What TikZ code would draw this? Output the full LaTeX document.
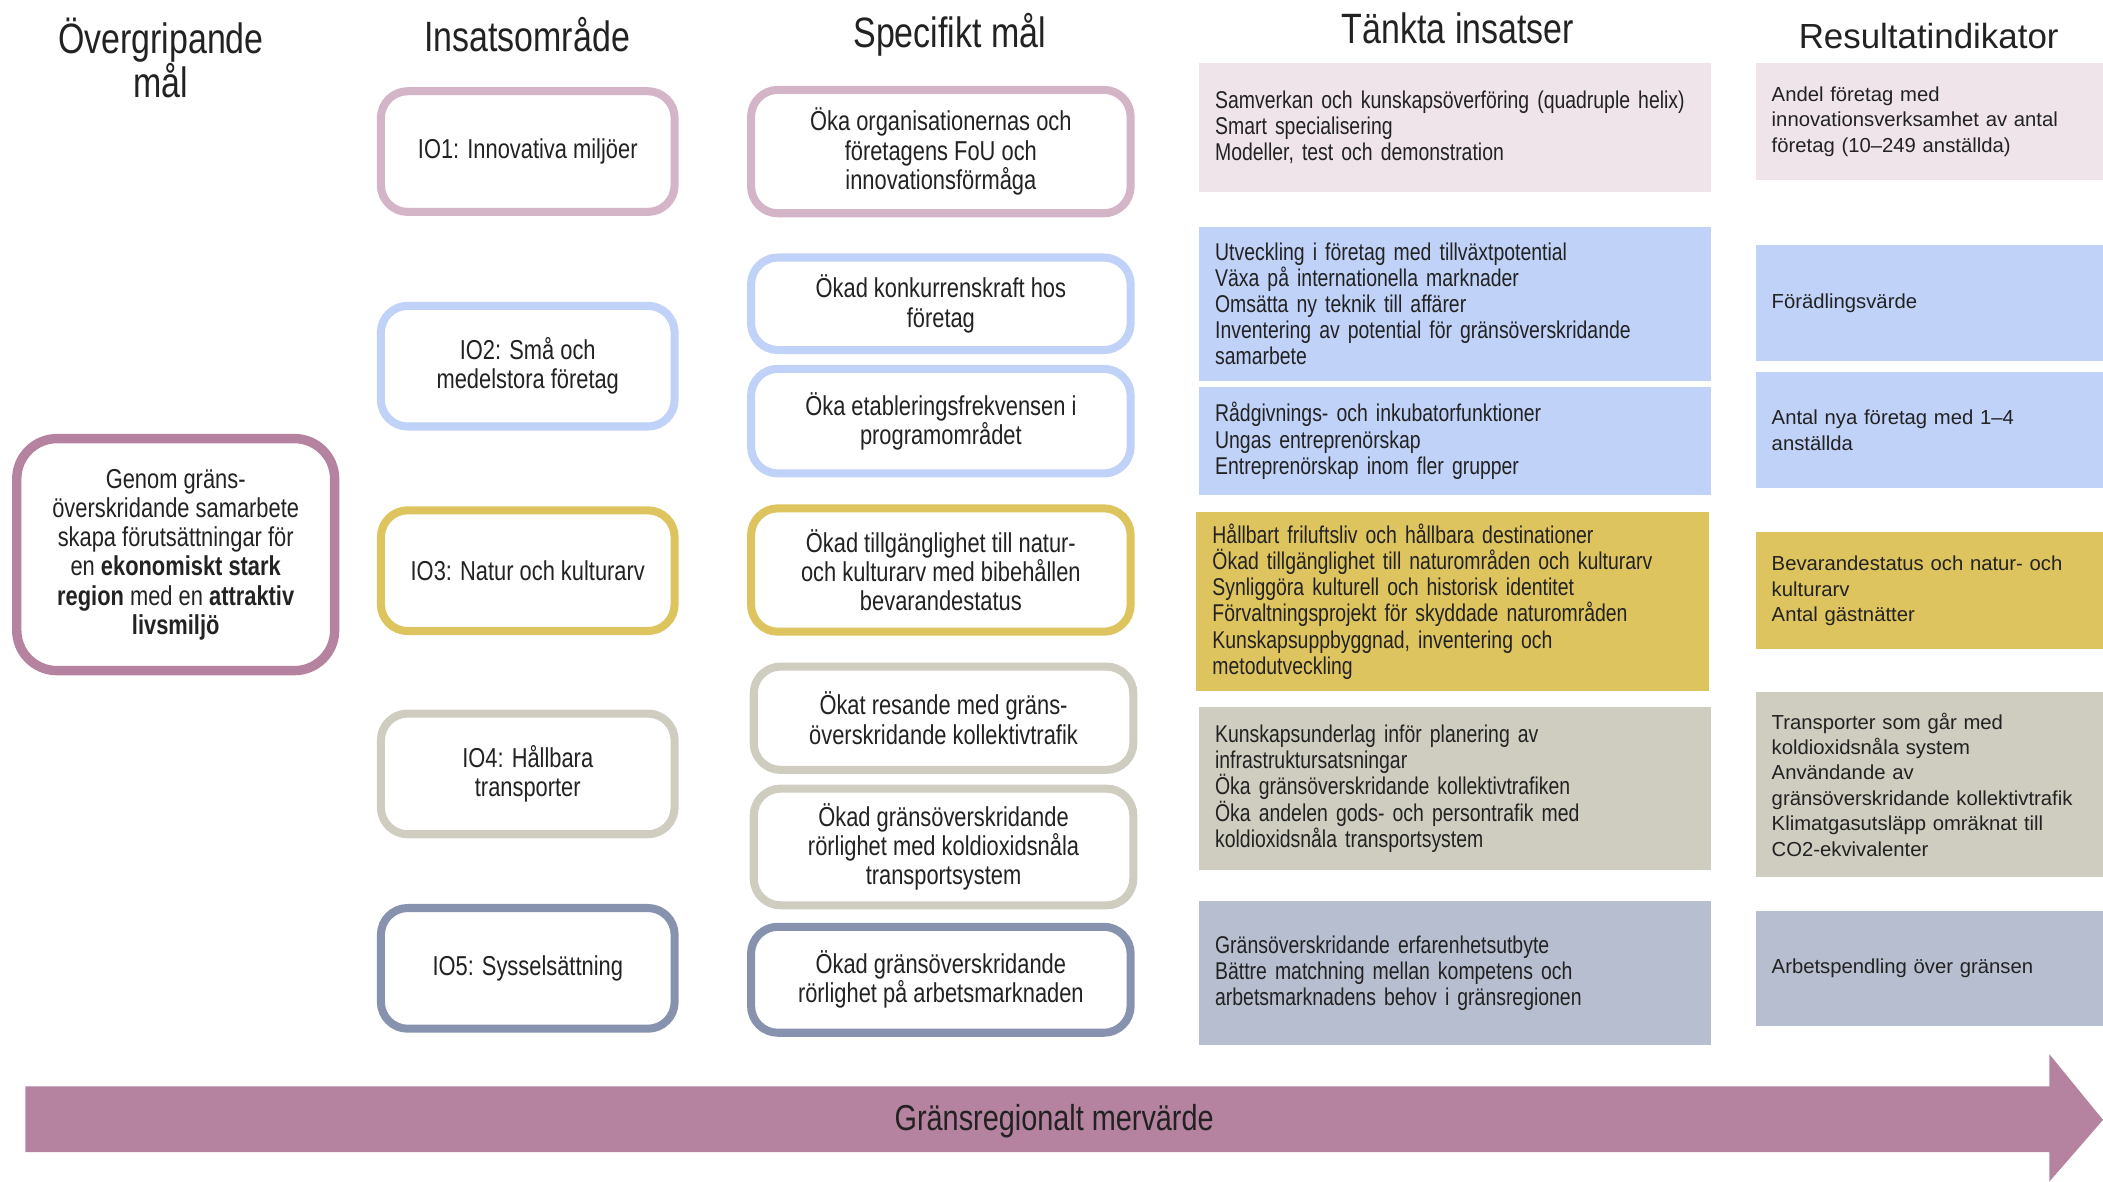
\documentclass[tikz,border=0pt]{standalone}
\usepackage{fontspec}
\setmainfont{Liberation Sans}
\newfontfamily\cond[FakeStretch=0.8]{Liberation Sans}
\usepackage{xcolor}
\usetikzlibrary{positioning}

\definecolor{mauve}{HTML}{B5829F}
\definecolor{pinkline}{HTML}{D4B4C7}
\definecolor{pinkfill}{HTML}{EFE4EA}
\definecolor{bluefill}{HTML}{C0D2F8}
\definecolor{yellowfill}{HTML}{DEC45E}
\definecolor{greyfill}{HTML}{CFCCC0}
\definecolor{slateline}{HTML}{8792AE}
\definecolor{slatefill}{HTML}{B7BED0}
\definecolor{textgrey}{HTML}{222222}

\begin{document}
\begin{tikzpicture}[x=0.2mm, y=-0.2mm, text=textgrey,
    head/.style={align=center, font=\cond\fontsize{18}{18.8}\selectfont},
    areabox/.style={draw=#1, line width=1.2mm, rounded corners=4mm, fill=white, align=center, minimum width=43.8mm, minimum height=18mm, font=\cond\fontsize{11.6}{12.4}\selectfont},
    aimbox/.style={draw=#1, line width=1.2mm, rounded corners=4mm, fill=white, align=center, minimum width=56.6mm, font=\cond\fontsize{11.6}{12.4}\selectfont},
    actbox/.style={fill=#1, text width=71.6mm, inner xsep=2.4mm, align=left, font=\cond\fontsize{10.3}{11.1}\selectfont},
    resbox/.style={fill=#1, text width=47mm, inner xsep=2.4mm, align=left, font=\fontsize{8.6}{10.8}\selectfont}]
    \useasboundingbox (0,0) rectangle (1568,881);

    % Headings
    \node[head] (HGoal) at (120,43) {Övergripande\\mål};
    \node[head] (HArea) at (393,26) {Insatsområde};
    \node[head] (HAim) at (708,26) {Specifikt mål};
    \node[head] (HAct) at (1087,21) {Tänkta insatser};
    \node[align=center, font=\fontsize{14.8}{16}\selectfont] (HRes) at (1438,27) {Resultatindikator};

    % Overall goal
    \node[draw=mauve, line width=1.4mm, rounded corners=6mm, minimum width=47.4mm, minimum height=34.6mm, align=center, font=\cond\fontsize{11.6}{12.4}\selectfont] (Goal) at (131,413.5)
        {Genom gräns-\\överskridande samarbete\\skapa förutsättningar för\\en \textbf{ekonomiskt stark}\\\textbf{region} med en \textbf{attraktiv}\\\textbf{livsmiljö}};

    % Areas
    \node[areabox=pinkline] (IO1) at (393.5,113) {IO1: Innovativa miljöer};
    \node[areabox=bluefill] (IO2) at (393.5,273) {IO2: Små och\\medelstora företag};
    \node[areabox=yellowfill] (IO3) at (393.5,425.5) {IO3: Natur och kulturarv};
    \node[areabox=greyfill] (IO4) at (393.5,577) {IO4: Hållbara\\transporter};
    \node[areabox=slateline] (IO5) at (393.5,722) {IO5: Sysselsättning};

    % Specific aims
    \node[aimbox=pinkline, minimum height=18.4mm] (Aim1) at (701.5,113) {Öka organisationernas och\\företagens FoU och\\innovationsförmåga};
    \node[aimbox=bluefill, minimum height=13.8mm] (Aim2) at (701.5,226.5) {Ökad konkurrenskraft hos\\företag};
    \node[aimbox=bluefill, minimum height=15.6mm, below=1.6mm of Aim2] (Aim3) {Öka etableringsfrekvensen i\\programområdet};
    \node[aimbox=yellowfill, minimum height=18.4mm] (Aim4) at (701.5,425) {Ökad tillgänglighet till natur-\\och kulturarv med bibehållen\\bevarandestatus};
    \node[aimbox=greyfill, minimum height=15.4mm] (Aim5) at (703.5,535.5) {Ökat resande med gräns-\\överskridande kollektivtrafik};
    \node[aimbox=greyfill, minimum height=17.4mm] (Aim6) at (703.5,631.5) {Ökad gränsöverskridande\\rörlighet med koldioxidsnåla\\transportsystem};
    \node[aimbox=slateline, minimum height=15.8mm] (Aim7) at (701.5,730.5) {Ökad gränsöverskridande\\rörlighet på arbetsmarknaden};

    % Planned actions
    \node[actbox=pinkfill, minimum height=19.2mm] (Act1) at (1085,95) {Samverkan och kunskapsöverföring (quadruple helix)\\Smart specialisering\\Modeller, test och demonstration};
    \node[actbox=bluefill, minimum height=23mm] (Act2) at (1085,226.5) {Utveckling i företag med tillväxtpotential\\Växa på internationella marknader\\Omsätta ny teknik till affärer\\Inventering av potential för gränsöverskridande\\samarbete};
    \node[actbox=bluefill, minimum height=16mm, below=0.8mm of Act2] (Act3) {Rådgivnings- och inkubatorfunktioner\\Ungas entreprenörskap\\Entreprenörskap inom fler grupper};
    \node[actbox=yellowfill, minimum height=26.6mm] (Act4) at (1083,448.5) {Hållbart friluftsliv och hållbara destinationer\\Ökad tillgänglighet till naturområden och kulturarv\\Synliggöra kulturell och historisk identitet\\Förvaltningsprojekt för skyddade naturområden\\Kunskapsuppbyggnad, inventering och\\metodutveckling};
    \node[actbox=greyfill, minimum height=24.4mm] (Act5) at (1085,588) {Kunskapsunderlag inför planering av\\infrastruktursatsningar\\Öka gränsöverskridande kollektivtrafiken\\Öka andelen gods- och persontrafik med\\koldioxidsnåla transportsystem};
    \node[actbox=slatefill, minimum height=21.4mm] (Act6) at (1085,725.5) {Gränsöverskridande erfarenhetsutbyte\\Bättre matchning mellan kompetens och\\arbetsmarknadens behov i gränsregionen};

    % Result indicators
    \node[resbox=pinkfill, minimum height=17.4mm] (Res1) at (1438.5,90.5) {Andel företag med\\innovationsverksamhet av antal\\företag (10–249 anställda)};
    \node[resbox=bluefill, minimum height=17.2mm] (Res2) at (1438.5,226) {Förädlingsvärde};
    \node[resbox=bluefill, minimum height=17.2mm, below=1.6mm of Res2] (Res3) {Antal nya företag med 1–4\\anställda};
    \node[resbox=yellowfill, minimum height=17.4mm] (Res4) at (1438.5,440.5) {Bevarandestatus och natur- och\\kulturarv\\Antal gästnätter};
    \node[resbox=greyfill, minimum height=27.6mm] (Res5) at (1438.5,585) {Transporter som går med\\koldioxidsnåla system\\Användande av\\gränsöverskridande kollektivtrafik\\Klimatgasutsläpp omräknat till\\CO2-ekvivalenter};
    \node[resbox=slatefill, minimum height=17.2mm] (Res6) at (1438.5,722) {Arbetspendling över gränsen};

    % Added value arrow
    \fill[mauve] (19,810) -- (1528,810) -- (1528,786) -- (1568,835) -- (1528,881) -- (1528,859) -- (19,859) -- cycle;
    \node[font=\cond\fontsize{15.3}{16}\selectfont] (Arrow) at (786,836) {Gränsregionalt mervärde};
\end{tikzpicture}
\end{document}
